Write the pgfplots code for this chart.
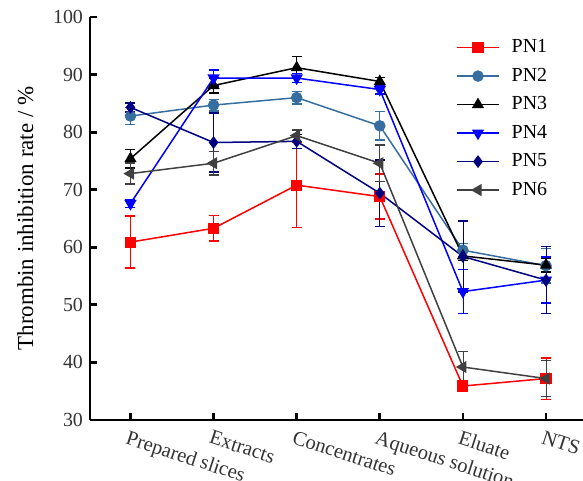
\documentclass[border=0pt]{standalone}
\usepackage{fontspec}
\setmainfont{Liberation Serif}
\usepackage{pgfplots}
\pgfplotsset{compat=1.18}

\definecolor{pnred}{RGB}{255,0,0}
\definecolor{pnsteel}{RGB}{54,110,160}
\definecolor{pnblue}{RGB}{0,0,255}
\definecolor{pnnavy}{RGB}{0,0,128}
\definecolor{pngray}{RGB}{64,64,64}

\begin{document}
\fontsize{10}{12}\selectfont
\begin{tikzpicture}
\begin{axis}[
    name=main,
    scale only axis,
    width=246.5bp, height=201.5bp,
    xmin=-0.487, xmax=5.445,
    ymin=30, ymax=100,
    ytick={30,40,...,100},
    xtick={0,1,2,3,4,5},
    xticklabels={Prepared slices, Extracts, Concentrates, Aqueous solution, Eluate, NTS},
    x tick label style={rotate=-18, anchor=north west, xshift=-2.5bp, yshift=-1.5bp,
        font=\fontsize{10.3}{12}\selectfont},
    axis x line=bottom, axis y line=left,
    axis line style={-, line width=1.4bp},
    tick align=inside,
    major tick length=3.5bp,
    tick style={line width=1.4bp, black},
    /pgf/number format/assume math mode=true,
    tick label style={font=\fontsize{10}{12}\selectfont, color=black!80},
    ylabel={Thrombin inhibition rate / \%},
    ylabel style={font=\fontsize{11.5}{13}\selectfont, yshift=3bp},
    every axis plot/.append style={line width=0.75bp},
    error bars/y dir=both, error bars/y explicit,
    error bars/error mark options={rotate=90, mark size=2.5bp, line width=0.75bp},
    legend style={at={(rel axis cs:0.73,0.965)}, anchor=north west, draw=none, fill=none,
        font=\fontsize{10}{12}\selectfont, row sep=2.2bp},
    legend cell align=left,
    legend image code/.code={\draw[mark repeat=2,mark phase=2] plot coordinates {(0cm,0cm) (0.37cm,0cm) (0.74cm,0cm)};
        \path (0.74cm+4bp,0cm);},
    clip=false,
]
\addplot[pnred, mark=square*, mark size=2.4bp] coordinates {
    (0,60.9) +- (0,4.5) (1,63.3) +- (0,2.2) (2,70.8) +- (0,7.4)
    (3,68.8) +- (0,3.9) (4,35.9) +- (0,0.8) (5,37.2) +- (0,3.6)};
\addplot[pnsteel, mark=*, mark size=2.5bp] coordinates {
    (0,82.8) +- (0,1.5) (1,84.7) +- (0,1.0) (2,86.0) +- (0,1.1)
    (3,81.1) +- (0,2.5) (4,59.5) +- (0,1.2) (5,56.8) +- (0,3.0)};
\addplot[black, mark=triangle*, mark size=2.8bp] coordinates {
    (0,75.4) +- (0,1.6) (1,88.1) +- (0,1.3) (2,91.2) +- (0,1.9)
    (3,88.8) +- (0,0.7) (4,58.5) +- (0,0.8) (5,56.9) +- (0,1.2)};
\addplot[pnblue, mark=triangle*, mark size=2.8bp, mark options={rotate=180}] coordinates {
    (0,67.6) +- (0,0.7) (1,89.4) +- (0,1.4) (2,89.4) +- (0,0.8)
    (3,87.4) +- (0,0.8) (4,52.3) +- (0,3.8) (5,54.3) +- (0,4.0)};
\addplot[pnnavy, mark=diamond*, mark size=2.6bp] coordinates {
    (0,84.3) +- (0,0.8) (1,78.2) +- (0,5.1) (2,78.4) +- (0,1.2)
    (3,69.4) +- (0,5.8) (4,58.4) +- (0,6.2) (5,54.3) +- (0,5.8)};
\addplot[pngray, mark=triangle*, mark size=2.8bp, mark options={rotate=90}] coordinates {
    (0,72.8) +- (0,1.8) (1,74.6) +- (0,2.0) (2,79.4) +- (0,1.0)
    (3,74.6) +- (0,3.2) (4,39.2) +- (0,2.7) (5,37.2) +- (0,3.1)};
\legend{PN1, PN2, PN3, PN4, PN5, PN6}
\end{axis}
\pgfresetboundingbox
\useasboundingbox ([shift={(-45bp,-30.5bp)}]main.south west) rectangle ([shift={(246.5bp,210bp)}]main.south west);
\end{tikzpicture}
\end{document}
